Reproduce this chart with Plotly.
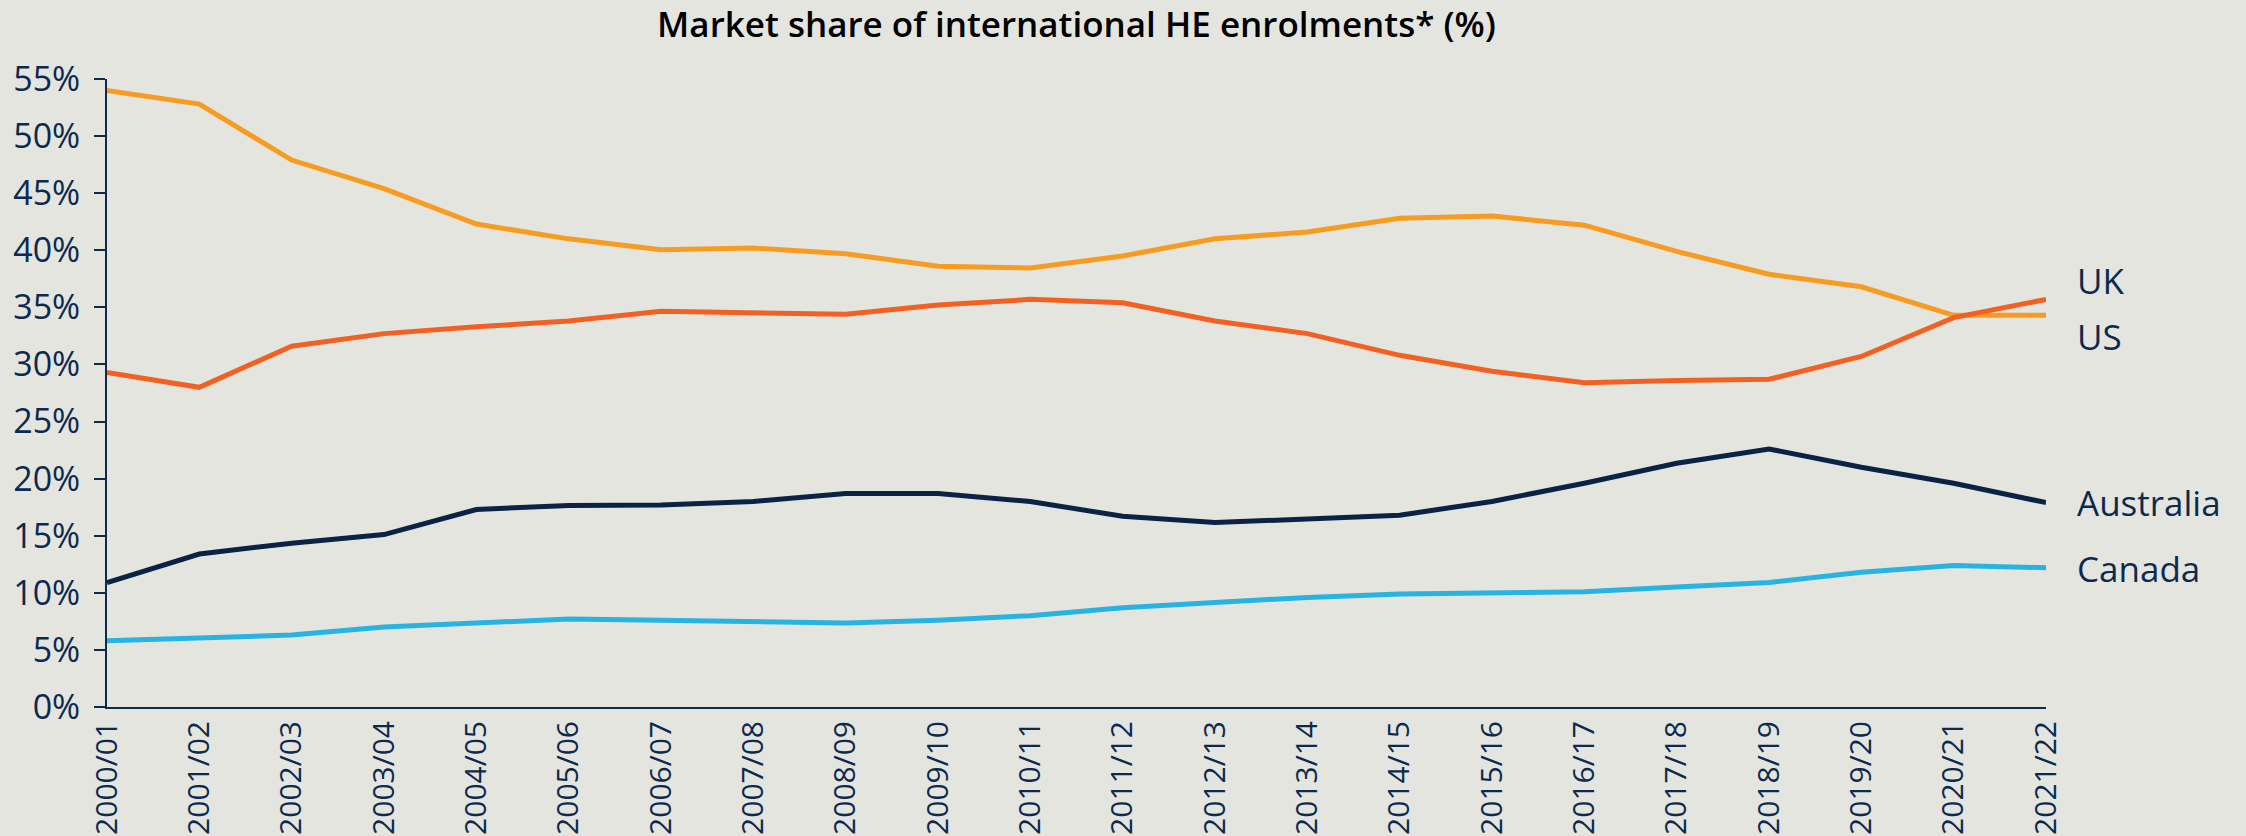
import plotly.graph_objects as go

years = ["2000/01", "2001/02", "2002/03", "2003/04", "2004/05", "2005/06", "2006/07",
         "2007/08", "2008/09", "2009/10", "2010/11", "2011/12", "2012/13", "2013/14",
         "2014/15", "2015/16", "2016/17", "2017/18", "2018/19", "2019/20", "2020/21", "2021/22"]

us = [54.0, 52.8, 47.9, 45.4, 42.3, 41.0, 40.05, 40.2, 39.7, 38.6, 38.45,
      39.5, 41.0, 41.6, 42.8, 43.0, 42.2, 39.9, 37.9, 36.8, 34.3, 34.3]
uk = [29.3, 28.0, 31.6, 32.7, 33.3, 33.8, 34.65, 34.5, 34.4, 35.2, 35.7,
      35.4, 33.8, 32.7, 30.8, 29.4, 28.4, 28.6, 28.7, 30.7, 34.1, 35.7]
australia = [10.9, 13.4, 14.35, 15.1, 17.3, 17.65, 17.7, 18.0, 18.7, 18.7, 18.0,
             16.7, 16.15, 16.5, 16.8, 18.0, 19.6, 21.35, 22.6, 21.0, 19.6, 17.9]
canada = [5.8, 6.0, 6.3, 7.0, 7.4, 7.7, 7.6, 7.5, 7.35, 7.6, 8.0,
          8.7, 9.2, 9.6, 9.9, 9.95, 10.1, 10.5, 10.9, 11.8, 12.4, 12.2]

y_ticks = [0, 5, 10, 15, 20, 25, 30, 35, 40, 45, 50, 55]
y_ticklabels = ["0%", "5%", "10%", "15%", "20%", "25%", "30%", "35%", "40%", "45%", "50%", "55%"]

series = [
    ("US", us, "#F79C21", -21),
    ("UK", uk, "#F26122", 19),
    ("Australia", australia, "#0A2345", 0),
    ("Canada", canada, "#27B4E2", -1),
]

NAVY = "#0B2A4E"
BG = "#E5E5E0"
FONT = "Open Sans, Noto Sans, sans-serif"

xs = list(range(len(years)))
fig = go.Figure()
for name, vals, color, _ in series:
    fig.add_trace(go.Scatter(x=xs, y=vals, mode="lines", name=name,
                             line=dict(color=color, width=5), showlegend=False))

for name, vals, color, ys in series:
    fig.add_annotation(x=xs[-1], y=vals[-1], xref="x", yref="y", text=name,
                       showarrow=False, xanchor="left", yanchor="middle",
                       xshift=29, yshift=ys,
                       font=dict(family=FONT, size=35, color=NAVY))

fig.update_layout(
    width=2246, height=836,
    paper_bgcolor=BG, plot_bgcolor=BG,
    margin=dict(l=107, r=200, t=79, b=129),
    title=dict(text="Market share of international HE enrolments* (%)",
               x=0.5, xref="paper", xanchor="center",
               y=1 - 25 / 836, yref="container", yanchor="middle",
               font=dict(family=FONT, size=35, color="#000000", weight=600)),
    font=dict(family=FONT, color=NAVY),
)
fig.update_xaxes(range=[0, len(years) - 1], tickvals=xs, ticktext=years, tickangle=-90,
                 showline=True, linecolor=NAVY, linewidth=2, ticks="",
                 showgrid=False, zeroline=False, automargin=False,
                 tickfont=dict(family=FONT, size=30, color=NAVY))
fig.update_yaxes(range=[0, 55], tickvals=y_ticks, ticktext=y_ticklabels,
                 showline=True, linecolor=NAVY, linewidth=2, ticks="outside",
                 ticklen=11, tickwidth=2, tickcolor=NAVY, automargin=False,
                 showgrid=False, zeroline=False, ticklabelstandoff=7,
                 tickfont=dict(family=FONT, size=34, color=NAVY))

fig.write_html("out.html", config={"displayModeBar": False},
               post_script="document.body.style.margin='0';")
